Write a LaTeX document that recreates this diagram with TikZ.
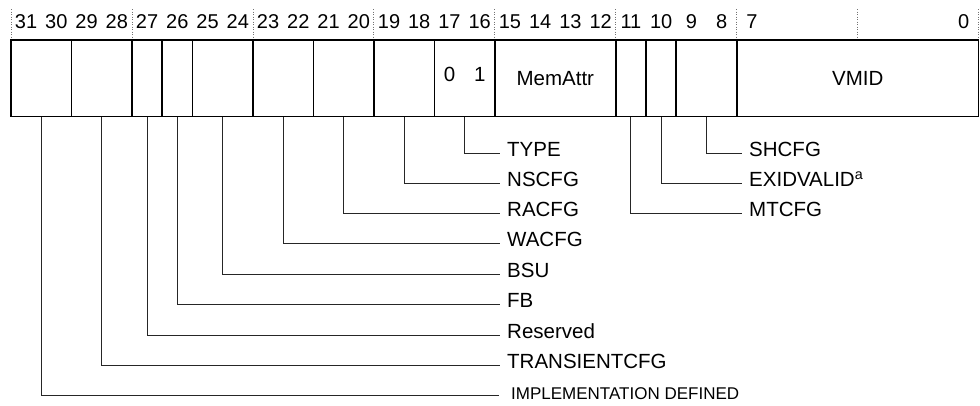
\documentclass[tikz,border=0pt]{standalone}
\usepackage{fontspec}
\setmainfont{Liberation Sans}
\begin{document}
\begin{tikzpicture}[x=1pt,y=-1pt,
  field/.style={draw=black, line width=1.6pt, inner sep=0pt, outer sep=0pt,
    minimum height=76.5pt, font=\fontsize{20.5}{24}\selectfont},
  num/.style={inner sep=0pt, text height=0.72em, text depth=0pt,
    font=\fontsize{20}{24}\selectfont},
  lab/.style={anchor=west, inner ysep=0pt, inner xsep=7pt, text height=0.72em,
    text depth=0pt, font=\fontsize{20.5}{24}\selectfont},
  labsmall/.style={lab, inner xsep=12pt, font=\fontsize{17}{20}\selectfont},
  conn/.style={draw=black!85, line width=1pt},
  sep/.style={draw=black!55, line width=0.8pt, dash pattern=on 1pt off 1.5pt}
]
\useasboundingbox (0,0) rectangle (980,405);
\def\bw{30.24}
\newcommand\fld[4]{%
  \node[field, minimum width={(#2-#3+1)*30.24pt}] (#1)
    at ({11+(31-#2)*\bw+(#2-#3+1)*\bw/2},78.25) {#4};}
% dotted group separators
\foreach \k in {0,...,8}
  \draw[sep] ({11+\k*4*\bw},9) -- ({11+\k*4*\bw},38);
% bit numbers
\foreach \b in {8,...,31}
  \node[num] (n\b) at ({11+(31-\b)*\bw+\bw/2},25) {\b};
\node[num] (n7) at ({11+24*\bw+\bw/2},25) {7};
\node[num] (n0) at ({11+31*\bw+\bw/2},25) {0};
% fields
\fld{f3130}{31}{30}{}
\fld{f2928}{29}{28}{}
\fld{f27}{27}{27}{}
\fld{f26}{26}{26}{}
\fld{f2524}{25}{24}{}
\fld{f2322}{23}{22}{}
\fld{f2120}{21}{20}{}
\fld{f1918}{19}{18}{}
\fld{f1716}{17}{16}{}
\fld{f1512}{15}{12}{MemAttr}
\fld{f11}{11}{11}{}
\fld{f10}{10}{10}{}
\fld{f98}{9}{8}{}
\fld{f70}{7}{0}{VMID}
\node[num, font=\fontsize{20.5}{24}\selectfont] (b17) at ({11+14*\bw+\bw/2},78.25) {0};
\node[num, font=\fontsize{20.5}{24}\selectfont] (b16) at ({11+15*\bw+\bw/2},78.25) {1};
% labels, left group
\node[lab] (ltype) at (500,153) {TYPE};
\node[lab] (lns) at (500,183) {NSCFG};
\node[lab] (lra) at (500,213) {RACFG};
\node[lab] (lwa) at (500,243) {WACFG};
\node[lab] (lbsu) at (500,274) {BSU};
\node[lab] (lfb) at (500,304) {FB};
\node[lab] (lres) at (500,335) {Reserved};
\node[lab] (ltr) at (500,365) {TRANSIENTCFG};
\node[labsmall] (limp) at (499,395.5) {IMPLEMENTATION DEFINED};
% labels, right group
\node[lab] (lsh) at (742,153) {SHCFG};
\node[lab] (lexid) at (742,183) {EXIDVALID\textsuperscript{a}};
\node[lab] (lmt) at (742,213) {MTCFG};
% connectors
\draw[conn] (f1716.south) |- (ltype.west);
\draw[conn] (f1918.south) |- (lns.west);
\draw[conn] (f2120.south) |- (lra.west);
\draw[conn] (f2322.south) |- (lwa.west);
\draw[conn] (f2524.south) |- (lbsu.west);
\draw[conn] (f26.south) |- (lfb.west);
\draw[conn] (f27.south) |- (lres.west);
\draw[conn] (f2928.south) |- (ltr.west);
\draw[conn] (f3130.south) |- (limp.west);
\draw[conn] (f98.south) |- (lsh.west);
\draw[conn] (f10.south) |- (lexid.west);
\draw[conn] (f11.south) |- (lmt.west);
\end{tikzpicture}
\end{document}
